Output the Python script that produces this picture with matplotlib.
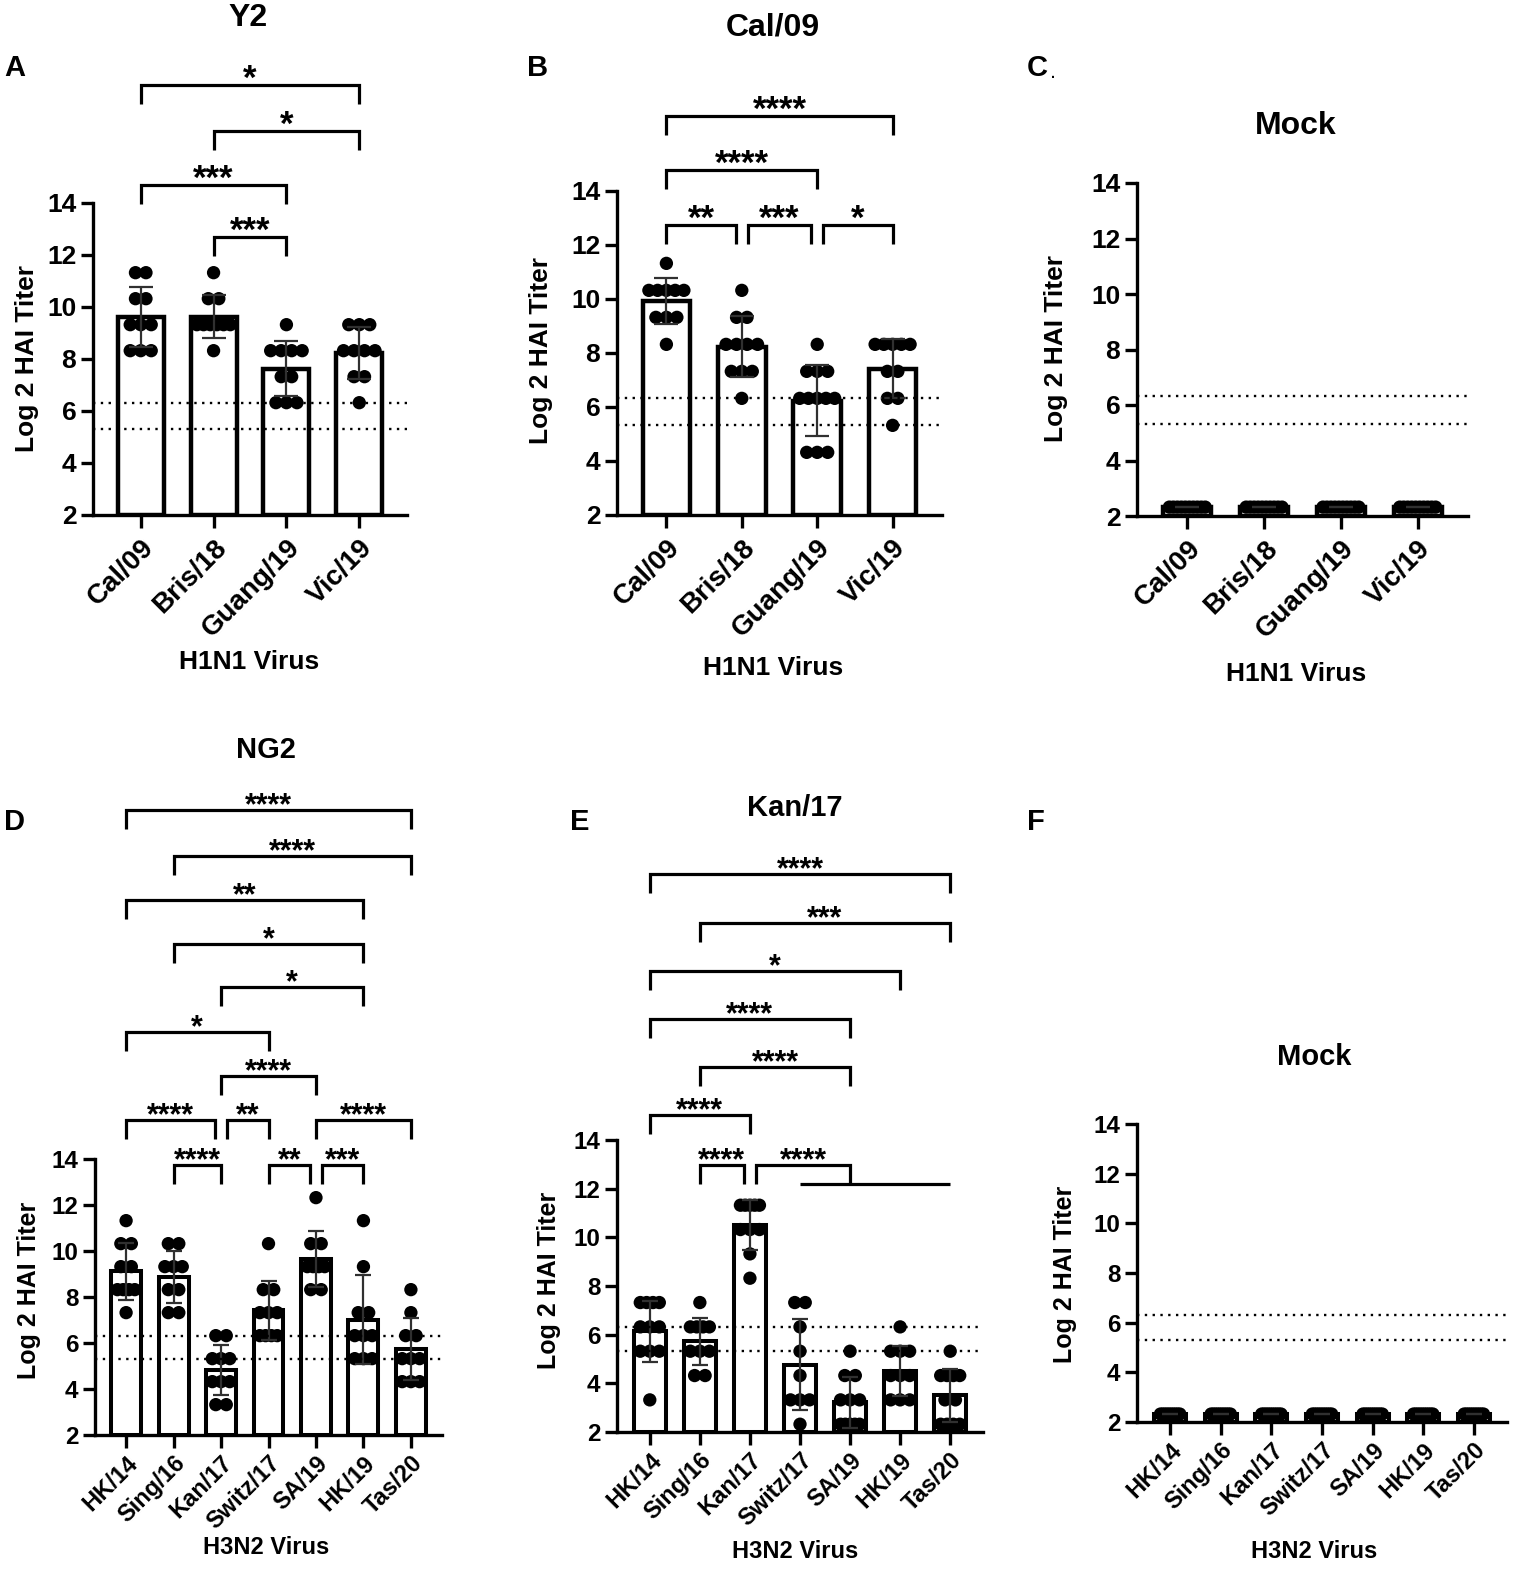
import numpy as np
import matplotlib
matplotlib.use("Agg")
import matplotlib.pyplot as plt

plt.rcParams['font.family'] = ['Liberation Sans', 'DejaVu Sans']
plt.rcParams['font.weight'] = 'bold'

W, H = 1515, 1577

# %% data (log2 HAI titers, one value per animal)
h1n1_viruses = ['Cal/09', 'Bris/18', 'Guang/19', 'Vic/19']
h3n2_viruses = ['HK/14', 'Sing/16', 'Kan/17', 'Switz/17', 'SA/19', 'HK/19', 'Tas/20']

y2_cal09 = [11.32, 11.32, 10.32, 10.32, 9.32, 9.32, 9.32, 8.32, 8.32, 8.32]
y2_bris18 = [11.32, 10.32, 10.32, 9.32, 9.32, 9.32, 9.32, 9.32, 9.32, 8.32]
y2_guang19 = [9.32, 8.32, 8.32, 8.32, 8.32, 7.32, 7.32, 6.32, 6.32, 6.32]
y2_vic19 = [9.32, 9.32, 9.32, 8.32, 8.32, 8.32, 8.32, 7.32, 7.32, 6.32]

cal_cal09 = [11.32, 10.32, 10.32, 10.32, 10.32, 10.32, 9.32, 9.32, 9.32, 8.32]
cal_bris18 = [10.32, 9.32, 9.32, 8.32, 8.32, 8.32, 8.32, 7.32, 7.32, 7.32, 6.32]
cal_guang19 = [8.32, 7.32, 7.32, 7.32, 6.32, 6.32, 6.32, 6.32, 6.32, 4.32, 4.32, 4.32]
cal_vic19 = [8.32, 8.32, 8.32, 8.32, 8.32, 7.32, 7.32, 6.32, 6.32, 5.32]

mock1_cal09 = [2.32] * 10
mock1_bris18 = [2.32] * 10
mock1_guang19 = [2.32] * 10
mock1_vic19 = [2.32] * 10

ng2_hk14 = [11.32, 10.32, 10.32, 9.32, 9.32, 8.32, 8.32, 8.32, 8.32, 7.32]
ng2_sing16 = [10.32, 10.32, 9.32, 9.32, 9.32, 8.32, 8.32, 7.32, 7.32]
ng2_kan17 = [6.32, 6.32, 5.32, 5.32, 5.32, 4.32, 4.32, 4.32, 3.32, 3.32]
ng2_switz17 = [10.32, 8.32, 8.32, 7.32, 7.32, 7.32, 6.32, 6.32, 6.32, 6.32]
ng2_sa19 = [12.32, 10.32, 10.32, 9.32, 9.32, 9.32, 9.32, 8.32, 8.32]
ng2_hk19 = [11.32, 9.32, 7.32, 7.32, 6.32, 6.32, 6.32, 5.32, 5.32, 5.32]
ng2_tas20 = [8.32, 7.32, 6.32, 6.32, 5.32, 5.32, 5.32, 4.32, 4.32, 4.32]

kan_hk14 = [7.32, 7.32, 7.32, 7.32, 6.32, 6.32, 6.32, 5.32, 5.32, 5.32, 3.32]
kan_sing16 = [7.32, 6.32, 6.32, 6.32, 6.32, 5.32, 5.32, 5.32, 4.32, 4.32]
kan_kan17 = [11.32, 11.32, 11.32, 11.32, 11.32, 10.32, 10.32, 10.32, 9.32, 8.32]
kan_switz17 = [7.32, 7.32, 6.32, 5.32, 4.32, 3.32, 3.32, 3.32, 2.32]
kan_sa19 = [5.32, 4.32, 4.32, 3.32, 3.32, 3.32, 2.32, 2.32, 2.32, 2.32, 2.32]
kan_hk19 = [6.32, 5.32, 5.32, 5.32, 4.32, 4.32, 4.32, 3.32, 3.32, 3.32]
kan_tas20 = [5.32, 4.32, 4.32, 4.32, 4.32, 3.32, 3.32, 2.32, 2.32, 2.32, 2.32]

mock3_groups = [[2.32] * 10 for _ in h3n2_viruses]

# protective thresholds (log2 40 and log2 80)
thresholds = [6.32, 5.32]

# significance brackets: (left, right, height, stars)
y2_brackets = [(0, 3, 18.54, '*'), (1, 3, 16.77, '*'),
               (0, 2, 14.69, '***'), (1, 2, 12.69, '***')]
cal_brackets = [(0, 3, 16.78, '****'), (0, 2, 14.78, '****'),
                (0, 1, 12.74, '**'), (1, 2, 12.74, '***'), (2, 3, 12.74, '*')]
ng2_brackets = [(0, 6, 29.17, '****'), (1, 6, 27.17, '****'), (0, 5, 25.26, '**'),
                (1, 5, 23.35, '*'), (2, 5, 21.48, '*'), (0, 3, 19.52, '*'),
                (2, 4, 17.61, '****'),
                (0, 2, 15.70, '****'), (2, 3, 15.70, '**'), (4, 6, 15.70, '****'),
                (1, 2, 13.74, '****'), (3, 4, 13.74, '**'), (4, 5, 13.74, '***')]
kan_brackets = [(0, 6, 24.93, '****'), (1, 6, 22.92, '***'), (0, 5, 20.95, '*'),
                (0, 4, 18.97, '****'), (1, 4, 17.0, '****'), (0, 2, 15.03, '****'),
                (1, 2, 12.97, '****')]
# Kan/17 vs. Switz/17..Tas/20 grouped bracket: left, arm, group span, height, stars
kan_group = (2, 4, (3, 6), 12.97, '****')

fig = plt.figure(figsize=(W / 100, H / 100), dpi=100)


def make_axes(l, r, t, b, n, big):
    ax = fig.add_axes([l / W, 1 - b / H, (r - l) / W, (b - t) / H])
    sp = (r - l) / (n - 1 + 2 * 0.655)
    ax.set_xlim(-0.655, n - 1 + 0.655)
    ax.set_ylim(2, 14)
    for s in ['top', 'right']:
        ax.spines[s].set_visible(False)
    for s in ['left', 'bottom']:
        ax.spines[s].set_linewidth(2.4)
    ax.set_yticks(range(2, 15, 2))
    ax.tick_params(axis='both', width=2.4, length=9)
    ax.tick_params(axis='y', labelsize=19 if big else 17.5, pad=3)
    ax.tick_params(axis='x', labelsize=20 if big else 17, pad=5 if big else 3)
    ax.px = sp  # pixels per data unit on x
    ax.pxy = (b - t) / 12.0
    return ax


def draw_bars(ax, groups, names, big):
    n = len(groups)
    bw = 0.63
    means = [np.mean(g) for g in groups]
    sds = [np.std(g, ddof=1) if len(set(g)) > 1 else 0 for g in groups]
    ax.bar(range(n), [m - 2 for m in means], bottom=2, width=bw, color='white',
           edgecolor='black', linewidth=3.2 if big else 2.9, zorder=2)
    step0 = 10.5 / ax.px
    maxspan = (bw * ax.px - 12.5) / ax.px
    for i, g in enumerate(groups):
        vals, counts = np.unique(g, return_counts=True)
        for v, k in zip(vals, counts):
            step = step0 if k == 1 else min(step0, maxspan / (k - 1))
            xs = i + (np.arange(k) - (k - 1) / 2) * step
            ax.scatter(xs, [v] * k, s=92, color='black', edgecolors='none', zorder=3, clip_on=False)
    ax.errorbar(range(n), means, yerr=sds, fmt='none', ecolor='#303030', elinewidth=1.6,
                capsize=8.5 if big else 5.5, capthick=1.6, zorder=4)
    for t in thresholds:
        ax.axhline(t, color='black', linestyle=(0, (1, 2.3)), linewidth=1.7, zorder=5)
    ax.set_xticks(range(n))
    ax.set_xticklabels(names, rotation=45, ha='right', rotation_mode='anchor', fontweight='bold')
    for lab in ax.get_yticklabels():
        lab.set_fontweight('bold')


def draw_brackets(ax, brackets, fs, group=None):
    inset = 6.0 / ax.px
    drop = 19.0 / ax.pxy
    ends = {}
    for (i, j, y, s) in brackets:
        ends.setdefault(y, []).append((i, j))
    if group is not None:
        ends.setdefault(group[3], []).append((group[0], group[2][1]))
    for (i, j, y, s) in brackets:
        others = [p for p in ends[y] if p != (i, j)]
        xl = i + inset if any(o[1] == i for o in others) else i
        xr = j - inset if any(o[0] == j for o in others) else j
        ax.plot([xl, xl, xr, xr], [y - drop, y, y, y - drop], color='black', lw=2.3,
                clip_on=False, solid_joinstyle='miter', solid_capstyle='butt')
        ax.annotate(s, xy=((xl + xr) / 2, y), xytext=(0, -3), textcoords='offset points',
                    ha='center', va='baseline', fontsize=fs, fontweight='bold',
                    annotation_clip=False)
    if group is not None:
        left, arm, (g0, g1), y, s = group
        xl = left + inset
        low = y - drop
        ax.plot([xl, xl, arm, arm], [low, y, y, low], color='black', lw=2.3, clip_on=False,
                solid_joinstyle='miter', solid_capstyle='butt')
        ax.plot([g0, g1], [low, low], color='black', lw=2.3, clip_on=False, solid_capstyle='butt')
        ax.annotate(s, xy=((xl + arm) / 2, y), xytext=(0, -3), textcoords='offset points',
                    ha='center', va='baseline', fontsize=fs, fontweight='bold',
                    annotation_clip=False)


def ftext(x, y, s, **kw):
    fig.text(x / W, 1 - y / H, s, fontweight='bold', **kw)


# %% panel A
axA = make_axes(93, 407, 203, 515, 4, True)
draw_bars(axA, [y2_cal09, y2_bris18, y2_guang19, y2_vic19], h1n1_viruses, True)
draw_brackets(axA, y2_brackets, 25)

# %% panel B
axB = make_axes(617, 942, 191, 515, 4, True)
draw_bars(axB, [cal_cal09, cal_bris18, cal_guang19, cal_vic19], h1n1_viruses, True)
draw_brackets(axB, cal_brackets, 25)

# %% panel C
axC = make_axes(1137, 1468, 183, 516, 4, True)
draw_bars(axC, [mock1_cal09, mock1_bris18, mock1_guang19, mock1_vic19], h1n1_viruses, True)

# %% panel D
axD = make_axes(95, 442, 1159, 1435, 7, False)
draw_bars(axD, [ng2_hk14, ng2_sing16, ng2_kan17, ng2_switz17, ng2_sa19, ng2_hk19, ng2_tas20],
          h3n2_viruses, False)
draw_brackets(axD, ng2_brackets, 22)

# %% panel E
axE = make_axes(617, 983, 1140, 1432, 7, False)
draw_bars(axE, [kan_hk14, kan_sing16, kan_kan17, kan_switz17, kan_sa19, kan_hk19, kan_tas20],
          h3n2_viruses, False)
draw_brackets(axE, kan_brackets, 22, group=kan_group)

# %% panel F
axF = make_axes(1137, 1507, 1124, 1422, 7, False)
draw_bars(axF, mock3_groups, h3n2_viruses, False)

# %% titles, letters, axis labels
ftext(248, 18, 'Y2', ha='center', va='center', fontsize=23)
ftext(773, 27, 'Cal/09', ha='center', va='center', fontsize=23)
ftext(1296, 126, 'Mock', ha='center', va='center', fontsize=23)
ftext(266, 750, 'NG2', ha='center', va='center', fontsize=21)
ftext(795, 808, 'Kan/17', ha='center', va='center', fontsize=21)
ftext(1314, 1057, 'Mock', ha='center', va='center', fontsize=21)

ftext(4, 68, 'A', ha='left', va='center', fontsize=21)
ftext(527, 68, 'B', ha='left', va='center', fontsize=21)
ftext(1027, 68, 'C', ha='left', va='center', fontsize=21)
ftext(1051, 74, '.', ha='left', va='center', fontsize=10)
ftext(4, 822, 'D', ha='left', va='center', fontsize=21)
ftext(570, 822, 'E', ha='left', va='center', fontsize=21)
ftext(1027, 822, 'F', ha='left', va='center', fontsize=21)

ftext(249, 662, 'H1N1 Virus', ha='center', va='center', fontsize=19)
ftext(773, 668, 'H1N1 Virus', ha='center', va='center', fontsize=19)
ftext(1296, 674, 'H1N1 Virus', ha='center', va='center', fontsize=19)
ftext(266, 1548, 'H3N2 Virus', ha='center', va='center', fontsize=17)
ftext(795, 1552, 'H3N2 Virus', ha='center', va='center', fontsize=17)
ftext(1314, 1552, 'H3N2 Virus', ha='center', va='center', fontsize=17)

ftext(27, 358, 'Log 2 HAI Titer', ha='center', va='center', rotation=90, fontsize=19)
ftext(541, 351, 'Log 2 HAI Titer', ha='center', va='center', rotation=90, fontsize=19)
ftext(1056, 349, 'Log 2 HAI Titer', ha='center', va='center', rotation=90, fontsize=19)
ftext(29, 1290, 'Log 2 HAI Titer', ha='center', va='center', rotation=90, fontsize=18)
ftext(549, 1280, 'Log 2 HAI Titer', ha='center', va='center', rotation=90, fontsize=18)
ftext(1065, 1274, 'Log 2 HAI Titer', ha='center', va='center', rotation=90, fontsize=18)

fig.savefig('out.png', dpi=100, facecolor='white')
